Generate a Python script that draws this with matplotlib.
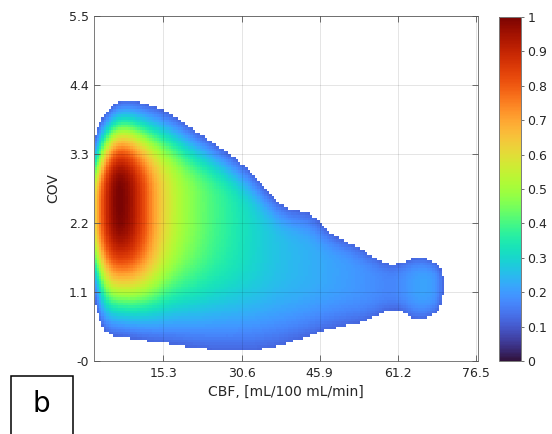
import numpy as np
import matplotlib
matplotlib.use("Agg")
import matplotlib.pyplot as plt
from matplotlib.patches import Rectangle

# ---- values -----------------------------------------------------------
# density "columns" along CBF: peak level, centre COV, and COV where the
# visible (above-threshold) region ends at top / bottom
knot_cbf = [-3.5, -1.0, 1.5, 4.0, 6.5, 9.0, 11.5, 14.0, 16.5, 19.0, 21.5,
            24.0, 26.5, 29.0, 31.5, 34.0, 36.5, 39.0, 41.5, 44.0, 46.5,
            49.0, 51.5, 54.0, 56.5, 59.0, 61.5, 64.0, 66.5, 69.0, 71.5]
knot_peak = [0.08, 0.25, 0.55, 0.88, 1.00, 0.93, 0.80, 0.65, 0.55, 0.48,
             0.44, 0.40, 0.37, 0.34, 0.31, 0.28, 0.26, 0.245, 0.235, 0.225,
             0.215, 0.205, 0.195, 0.185, 0.175, 0.16, 0.165, 0.20, 0.21, 0.20, 0.02]
knot_center = [2.2, 2.3, 2.4, 2.55, 2.62, 2.55, 2.5, 2.5, 2.55, 2.55, 2.5,
               2.5, 2.45, 2.35, 2.2, 2.0, 1.9, 1.75, 1.65, 1.6, 1.5,
               1.45, 1.4, 1.3, 1.25, 1.2, 1.2, 1.2, 1.2, 1.2, 1.2]
knot_top = [2.6, 2.9, 3.3, 3.92, 4.16, 4.16, 4.1, 4.03, 3.94, 3.8, 3.65,
            3.52, 3.38, 3.24, 3.07, 2.85, 2.6, 2.42, 2.38, 2.36, 2.15,
            1.96, 1.88, 1.78, 1.65, 1.52, 1.52, 1.64, 1.66, 1.55, 1.3]
knot_bottom = [1.9, 1.8, 1.3, 0.42, 0.4, 0.37, 0.34, 0.31, 0.29, 0.26, 0.23,
               0.21, 0.2, 0.19, 0.19, 0.21, 0.24, 0.29, 0.36, 0.42, 0.5,
               0.55, 0.6, 0.63, 0.7, 0.83, 0.86, 0.66, 0.66, 0.78, 1.1]

x_ticks = [15.3, 30.6, 45.9, 61.2, 76.5]
x_tick_labels = ["15.3", "30.6", "45.9", "61.2", "76.5"]
y_ticks = [0.0, 1.1, 2.2, 3.3, 4.4, 5.5]
y_tick_labels = ["-0", "1.1", "2.2", "3.3", "4.4", "5.5"]
cbar_ticks = [0, 0.1, 0.2, 0.3, 0.4, 0.5, 0.6, 0.7, 0.8, 0.9, 1.0]
cbar_tick_labels = ["0", "0.1", "0.2", "0.3", "0.4", "0.5", "0.6", "0.7",
                    "0.8", "0.9", "1"]
x_label = "CBF, [mL/100 mL/min]"
y_label = "COV"
panel_letter = "b"

# ---- build the density field from the columns --------------------------
threshold = 0.12
shape_p = 3.0
spacing = 2.5
sx = 1.6
xlim = (1.8, 76.8)
ylim = (0.0, 5.5)

xe = np.linspace(xlim[0], xlim[1], 161)
ye = np.linspace(ylim[0], ylim[1], 131)
xc = 0.5 * (xe[:-1] + xe[1:])
yc = 0.5 * (ye[:-1] + ye[1:])
X, Y = np.meshgrid(xc, yc)

norm_c = np.sqrt(2 * np.pi) * sx / spacing
D = np.zeros_like(X)
for xk, a, mu, top, bot in zip(knot_cbf, knot_peak, knot_center, knot_top, knot_bottom):
    reach = np.log(max(a / threshold, 1.15)) ** (1.0 / shape_p)
    s_up = (top - mu) / reach
    s_dn = (mu - bot) / reach
    z = np.where(Y >= mu, (Y - mu) / s_up, (mu - Y) / s_dn)
    D += (a / norm_c) * np.exp(-0.5 * ((X - xk) / sx) ** 2) * np.exp(-np.abs(z) ** shape_p)
D = D / D.max()
Dm = np.ma.masked_less(D, threshold)

# ---- figure -------------------------------------------------------------
plt.rcParams["font.family"] = ["DejaVu Sans"]
txt = "#262626"
fig = plt.figure(figsize=(5.52, 4.34), dpi=100)
ax = fig.add_axes([0.1708, 0.1682, 0.6946, 0.7949])
mesh = ax.pcolormesh(xe, ye, Dm, cmap="turbo", vmin=0, vmax=1, shading="flat")

ax.set_xlim(*xlim)
ax.set_ylim(*ylim)
ax.set_xticks(x_ticks)
ax.set_xticklabels(x_tick_labels)
ax.set_yticks(y_ticks)
ax.set_yticklabels(y_tick_labels)
ax.tick_params(direction="in", length=4, width=0.6, color="#555555",
               labelcolor=txt, labelsize=9, top=True, right=True, pad=4)
for sp in ax.spines.values():
    sp.set_color("#7a7a7a")
    sp.set_linewidth(0.7)
ax.set_axisbelow(False)
ax.grid(True, color="black", alpha=0.12, linewidth=0.6)
ax.set_xlabel(x_label, fontsize=10, color=txt)
ax.set_ylabel(y_label, fontsize=10, color=txt)
ax.xaxis.set_label_coords(0.5, -0.07)
ax.yaxis.set_label_coords(-0.088, 0.5)

cax = fig.add_axes([0.904, 0.1682, 0.0399, 0.7926])
cb = fig.colorbar(mesh, cax=cax, ticks=cbar_ticks)
cb.set_ticklabels(cbar_tick_labels)
cb.ax.tick_params(direction="out", length=2.5, width=0.6, color="#555555",
                  labelcolor=txt, labelsize=9, pad=2)
cb.outline.set_edgecolor("#7a7a7a")
cb.outline.set_linewidth(0.7)

fig.patches.append(Rectangle((11 / 552, -0.05), 62 / 552, 0.05 + (434 - 375.7) / 434,
                             transform=fig.transFigure, fill=False,
                             edgecolor="black", linewidth=1.1))
fig.text(41 / 552, (434 - 404) / 434, panel_letter, fontsize=20,
         ha="center", va="center", color="black")

fig.savefig("out.png", dpi=100)
